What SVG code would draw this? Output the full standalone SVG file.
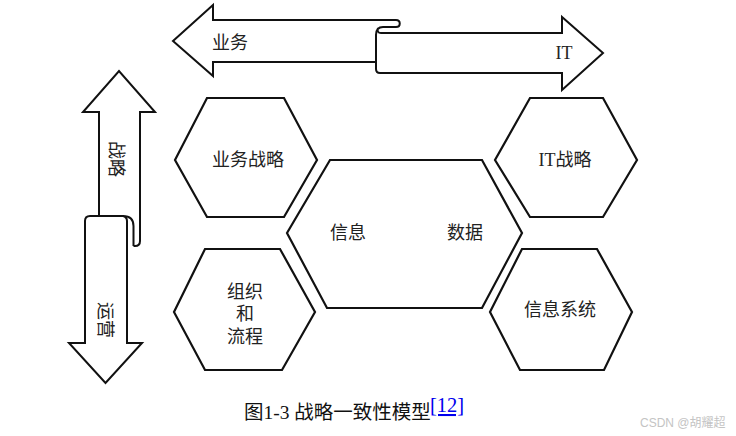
<svg xmlns="http://www.w3.org/2000/svg" width="736" height="436" viewBox="0 0 736 436">
<style>
.s{fill:none;stroke:#111;stroke-width:2;stroke-linejoin:miter}
.h{fill:#fff;stroke:#111;stroke-width:2.2}
.t{font-family:"Liberation Serif","Noto Sans CJK SC",serif;font-size:18px;fill:#222;text-anchor:middle;dominant-baseline:central}
.cap{font-family:"Liberation Serif","Noto Sans CJK SC",serif;font-size:19.5px;fill:#111}
</style>
<rect width="736" height="436" fill="#fff"/>
<g id="connectors">
<g id="arrow-business-it">
<path class="s" d="M376,62 L213,62 L213,76 L173,41 L213,5 L213,20 L396,20 C401,20 401,27 396,27 L383,27 C378,27 376,30 376,35 L376,69 Q376,73 380,73 L562,73 L562,90 L603,53 L562,17 L562,33 L381,33 C378,33 377,31 378,28"/>
<text class="t" x="230" y="43">业务</text>
<text class="t" x="564" y="53">IT</text>
</g>
<g id="arrow-strategy-operation">
<path class="s" d="M99,216 L99,112 L83,112 L119,71 L155,112 L140,112 L140,241 Q140,246 135,246 L133.5,246"/>
<path class="s" d="M133.5,246 L133.5,226 C133.5,219 129,216 123,216 L90,216 Q85,216 85,221 L85,343 L69,343 L105.5,383 L142,343 L127,343 L127,221 C127,218 125,216.5 123,216"/>
<text class="t" transform="translate(116,159) rotate(90)">战略</text>
<text class="t" transform="translate(105,320) rotate(90)">运营</text>
</g>
</g>
<g id="node-business-strategy">
<polygon class="h" points="207,98 284,98 317,160 284,217 207,217 175,160"/>
<text class="t" x="248" y="160">业务战略</text>
</g>
<g id="node-it-strategy">
<polygon class="h" points="530,98 603,98 637,160 603,217 530,217 495,160"/>
<text class="t" x="565" y="160">IT战略</text>
</g>
<g id="node-center">
<polygon class="h" points="330,160 482,160 522,233 482,308 327,308 287,233"/>
<text class="t" x="348" y="233">信息</text>
<text class="t" x="465" y="233">数据</text>
</g>
<g id="node-org-process">
<polygon class="h" points="205,249 280,249 315,312 282,370 205,370 174,312"/>
<text class="t" x="245" y="292">组织</text>
<text class="t" x="245" y="314">和</text>
<text class="t" x="245" y="337">流程</text>
</g>
<g id="node-info-systems">
<polygon class="h" points="522,249 597,249 632,312 604,370 520,370 490,312"/>
<text class="t" x="560" y="310">信息系统</text>
</g>
<g id="caption">
<text class="cap" x="244" y="419">图1-3 战略一致性模型</text>
<text x="430" y="412" font-family="Liberation Serif, serif" font-size="20.5" fill="#0000ee" text-decoration="underline">[12]</text>
<text x="640" y="427" font-family="Liberation Sans, Noto Sans CJK SC, sans-serif" font-size="12" fill="#c4c4c4">CSDN @胡耀超</text>
</g>
</svg>
